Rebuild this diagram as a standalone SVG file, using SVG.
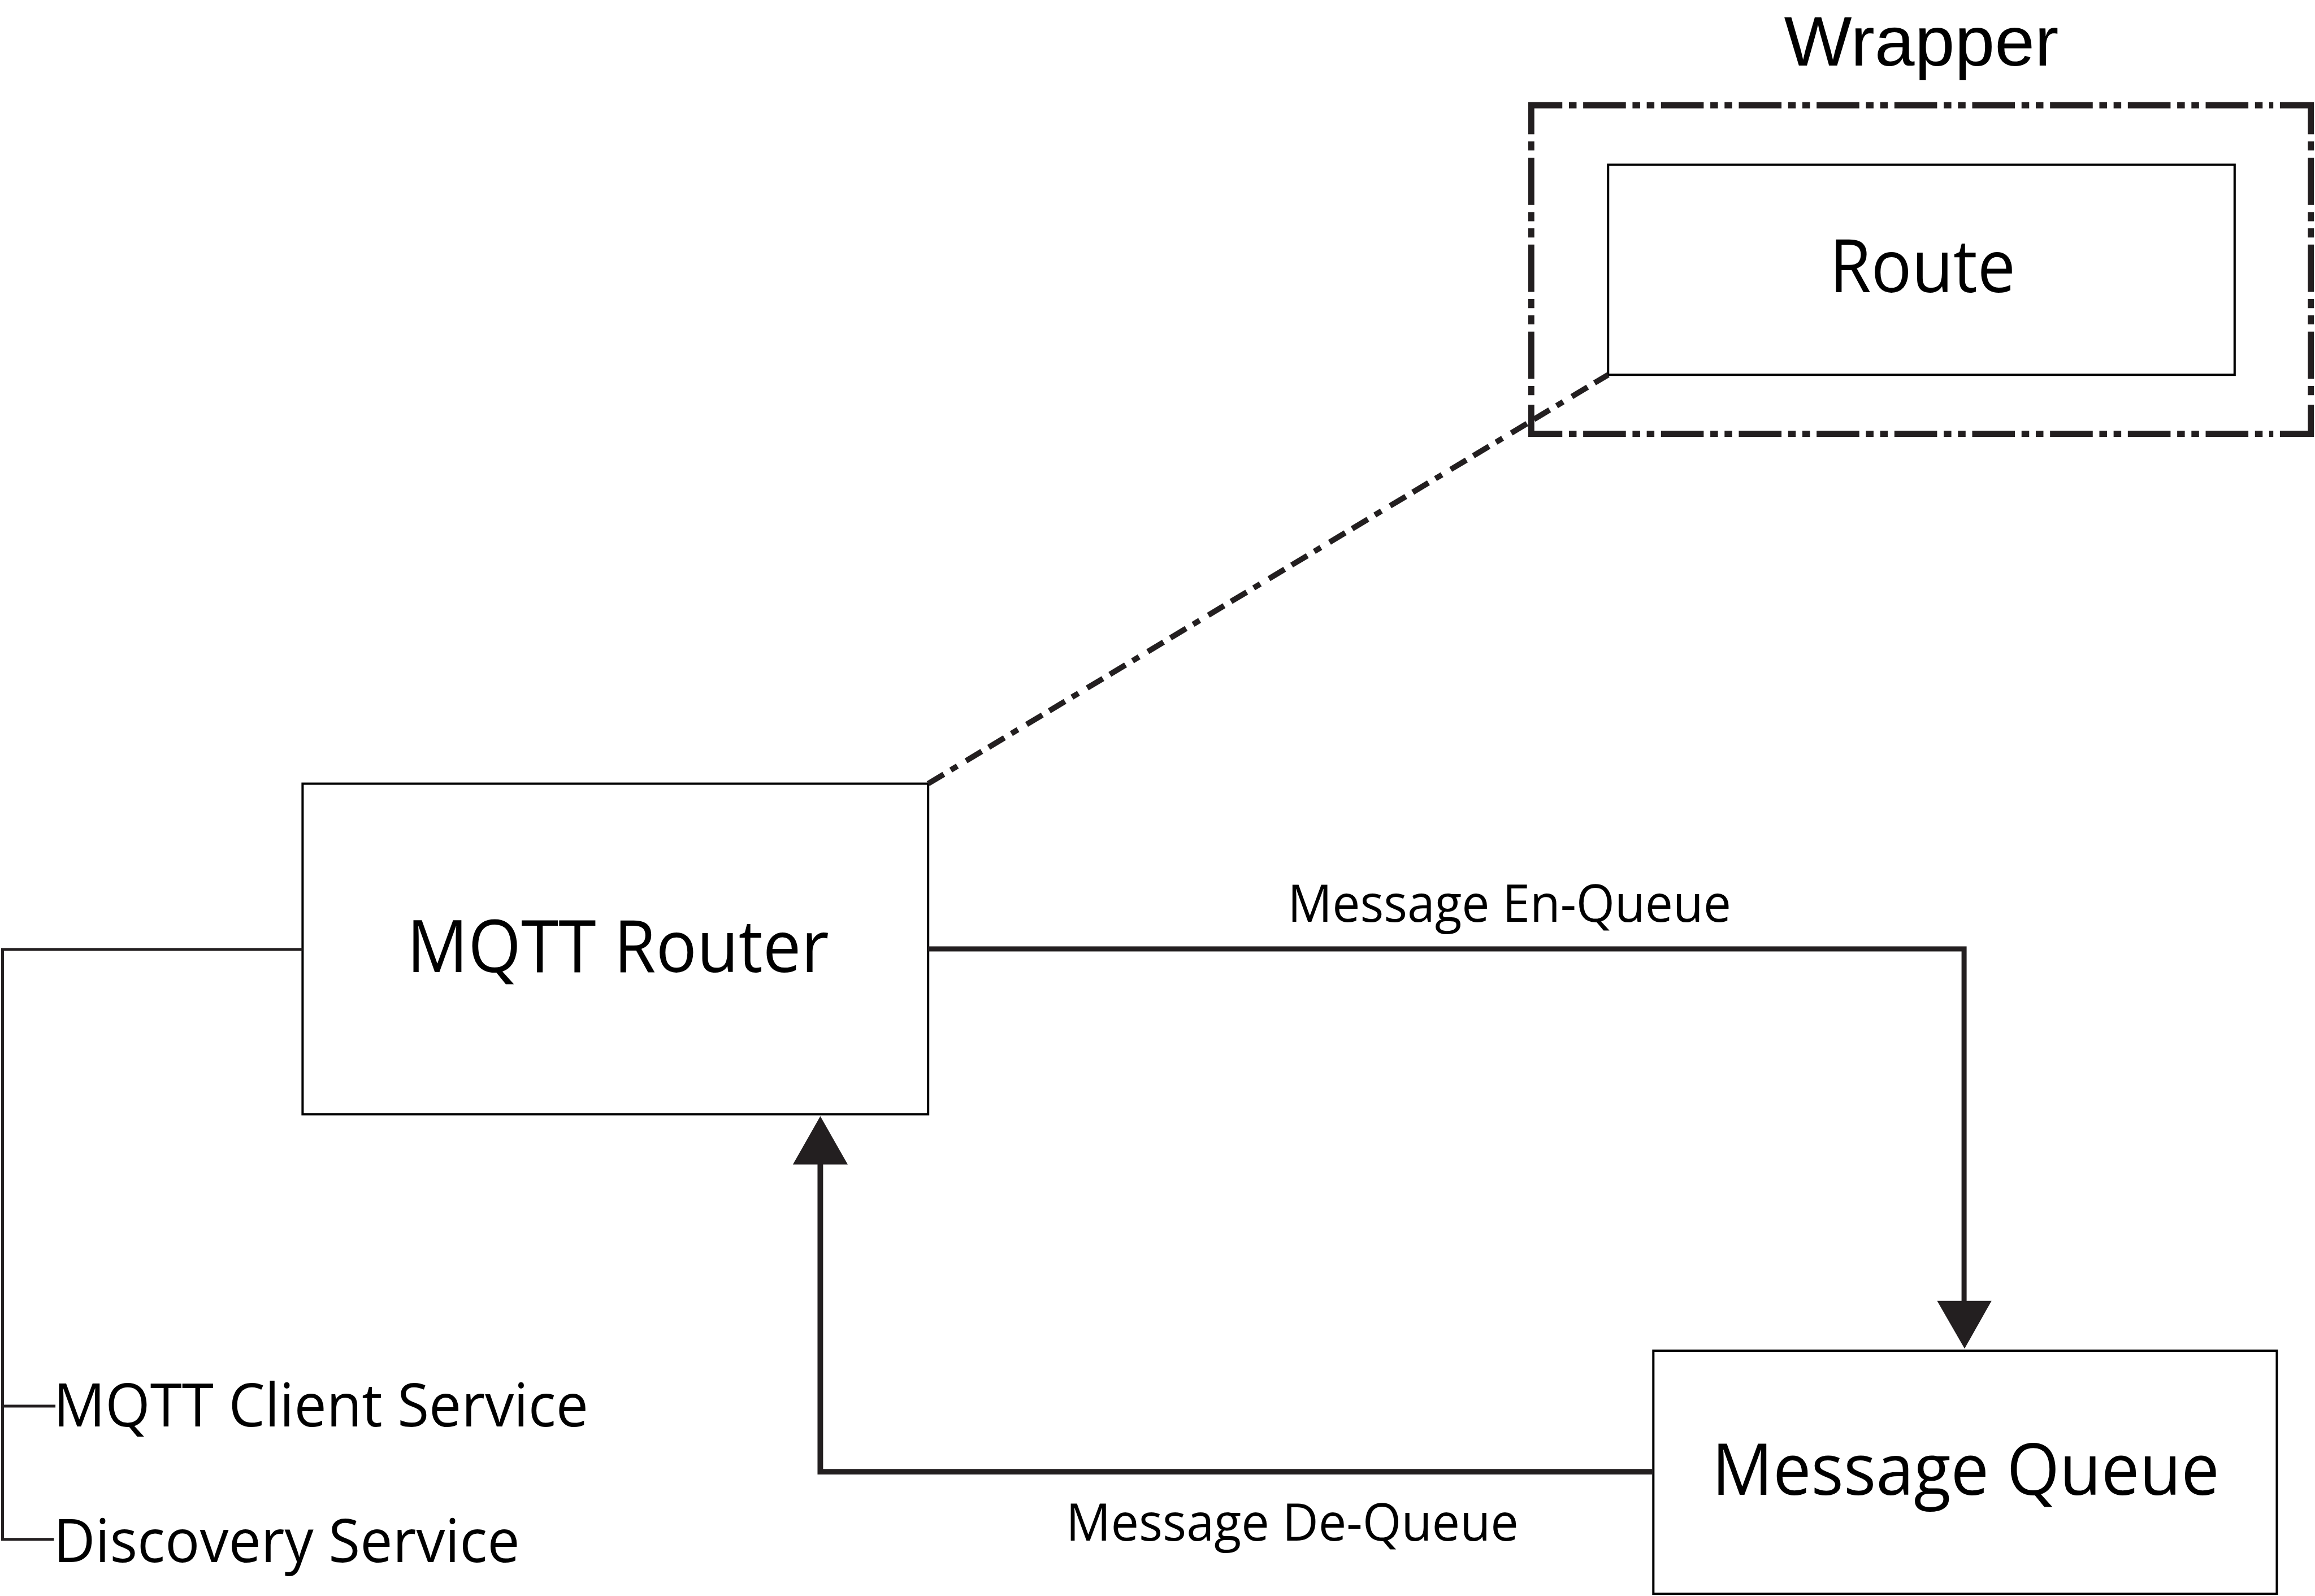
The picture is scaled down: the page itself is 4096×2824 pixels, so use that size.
<svg xmlns="http://www.w3.org/2000/svg" width="4096" height="2824" viewBox="0 0 4096 2824">
<style>
.box{fill:#fff;stroke:#000;stroke-width:4.5}
.lbl{font-family:"Open Sans","Noto Sans","Liberation Sans",sans-serif;fill:#000}
.title{font-family:"Liberation Sans","Open Sans",sans-serif;fill:#000}
.conn{fill:none;stroke:#231f20}
.arrow{fill:#231f20;stroke:none}
.wrap{fill:none;stroke:#231f20;stroke-width:12;stroke-linejoin:miter}
.wh{stroke-dasharray:15 13 84 13 15 13}
.wv{stroke-dasharray:18 14 93 14 18 14}
</style>
<rect width="4096" height="2824" fill="#fff"/>
<g transform="scale(0.89982)">
  <g id="node-wrapper">
    <path class="wrap" d="M3011,264 V207 H3072 M4483,207 H4544 V264 M4544,796 V853 H4483 M3072,853 H3011 V796"/>
    <path class="wrap wh" d="M3085,207 H4470 M3085,853 H4470"/>
    <path class="wrap wv" d="M3011,278 V782 M4544,278 V782"/>
    <text class="title" x="3508" y="129" font-size="139" textLength="540" lengthAdjust="spacingAndGlyphs">Wrapper</text>
  </g>
  <g id="node-route">
    <rect class="box" x="3162" y="324" width="1232" height="413"/>
    <text class="lbl" x="3597" y="575" font-size="144" textLength="366" lengthAdjust="spacingAndGlyphs">Route</text>
  </g>
  <g id="node-mqtt-router">
    <rect class="box" x="595" y="1541" width="1230" height="650"/>
    <text class="lbl" x="800" y="1911" font-size="143" textLength="830" lengthAdjust="spacingAndGlyphs">MQTT Router</text>
  </g>
  <g id="node-message-queue">
    <rect class="box" x="3251" y="2656" width="1226" height="478"/>
    <text class="lbl" x="3366" y="2940" font-size="141" textLength="998" lengthAdjust="spacingAndGlyphs">Message Queue</text>
  </g>
  <g id="node-mqtt-client-service">
    <text class="lbl" x="105" y="2805" font-size="118" textLength="1052" lengthAdjust="spacingAndGlyphs">MQTT Client Service</text>
  </g>
  <g id="node-discovery-service">
    <text class="lbl" x="105" y="3072" font-size="118" textLength="917" lengthAdjust="spacingAndGlyphs">Discovery Service</text>
  </g>
  <g id="connectors">
    <path class="conn" stroke-width="11" stroke-dasharray="36 16 36 16 15 20" stroke-dashoffset="52" d="M1825,1541 L3162,737"/>
    <path class="conn" stroke-width="10" d="M1825,1866 H3862 V2562"/>
    <polygon class="arrow" points="3809,2558 3916,2558 3863,2652"/>
    <text class="lbl" x="2532" y="1813" font-size="102" textLength="872" lengthAdjust="spacingAndGlyphs">Message En-Queue</text>
    <path class="conn" stroke-width="11" d="M3251,2894 H1613 V2286"/>
    <polygon class="arrow" points="1559,2290 1667,2290 1613,2195"/>
    <text class="lbl" x="2096" y="3030" font-size="102" textLength="890" lengthAdjust="spacingAndGlyphs">Message De-Queue</text>
    <path class="conn" stroke="#000" stroke-width="5.5" d="M595,1867 H5 V3027 H106 M5,2765 H109"/>
  </g>
</g>
</svg>
